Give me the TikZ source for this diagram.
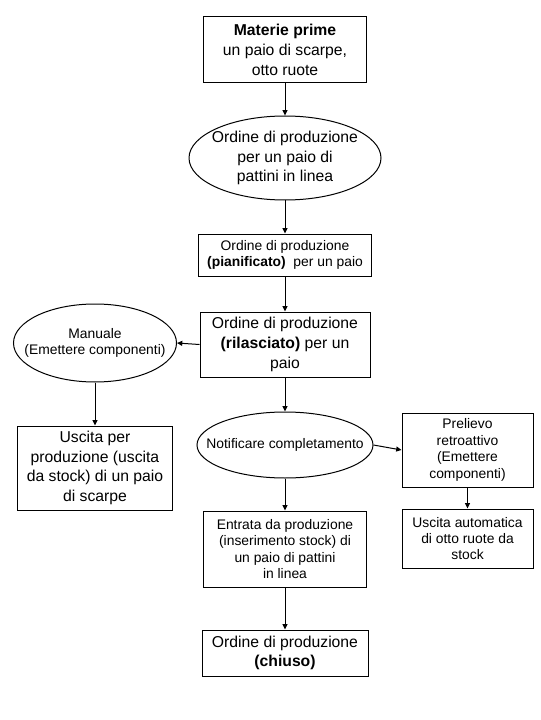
\documentclass[tikz,border=0pt]{standalone}
\usepackage{fontspec}
\setmainfont{Liberation Sans}
\usetikzlibrary{shapes.geometric,arrows.meta}
\begin{document}
\begin{tikzpicture}[x=0.75pt,y=-0.75pt,
  box/.style={draw, line width=0.75pt, inner sep=0pt, align=center, rectangle},
  oval/.style={draw, line width=0.75pt, ellipse, inner sep=0pt},
  lbl/.style={align=center, inner sep=0pt},
  big/.style={font=\fontsize{11.8}{14.8}\selectfont},
  med/.style={font=\fontsize{10.4}{12.3}\selectfont},
  arr/.style={line width=0.75pt, -{Triangle[length=4pt,width=3.75pt]}}]
\useasboundingbox[fill=white] (0,0) rectangle (540,720);

\node[box,big,minimum width=122.25pt,minimum height=49.5pt] (mat) at (285,50)
  {\textbf{Materie prime}\\un paio di scarpe,\\otto ruote};
\node[oval,minimum width=144pt,minimum height=63pt] (ord1) at (285,158) {};
\node[lbl,big] (ord1t) at (ord1) {Ordine di produzione\\per un paio di\\pattini in linea};
\node[box,med,minimum width=129.75pt,minimum height=31.5pt] (pian) at (285,255)
  {Ordine di produzione\\\textbf{(pianificato)}\ \ per un paio};
\node[box,big,minimum width=127.5pt,minimum height=48.75pt] (ril) at (285,344.5)
  {Ordine di produzione\\\textbf{(rilasciato)} per un\\paio};
\node[oval,minimum width=122.25pt,minimum height=58.5pt] (man) at (95,343) {};
\node[lbl,med] (mant) at (man) {Manuale\\(Emettere componenti)};
\node[box,big,minimum width=116.25pt,minimum height=63pt] (usc) at (95,468)
  {Uscita per\\produzione (uscita\\da stock) di un paio\\di scarpe};
\node[oval,minimum width=132pt,minimum height=49.5pt] (notif) at (285,445) {};
\node[lbl,med] (notift) at (notif) {Notificare completamento};
\node[box,med,minimum width=98.25pt,minimum height=55.5pt] (prel) at (467.5,450)
  {Prelievo\\retroattivo\\(Emettere\\componenti)};
\node[box,med,minimum width=98.25pt,minimum height=44.25pt] (auto) at (467.5,538.5)
  {Uscita automatica\\di otto ruote da\\stock};
\node[box,med,minimum width=122.25pt,minimum height=57pt] (entr) at (285,549)
  {Entrata da produzione\\(inserimento stock) di\\un paio di pattini\\in linea};
\node[box,big,minimum width=124.5pt,minimum height=34.5pt] (chiu) at (285,653)
  {Ordine di produzione\\\textbf{(chiuso)}};

\draw[arr] (mat) -- (ord1);
\draw[arr] (ord1) -- (pian);
\draw[arr] (pian) -- (ril);
\draw[arr] (ril.west) -- (man.east);
\draw[arr] (man) -- (usc);
\draw[arr] (ril) -- (notif);
\draw[arr] (notif.east) -- (prel.west);
\draw[arr] (prel) -- (auto);
\draw[arr] (notif) -- (entr);
\draw[arr] (entr) -- (chiu);
\end{tikzpicture}
\end{document}
